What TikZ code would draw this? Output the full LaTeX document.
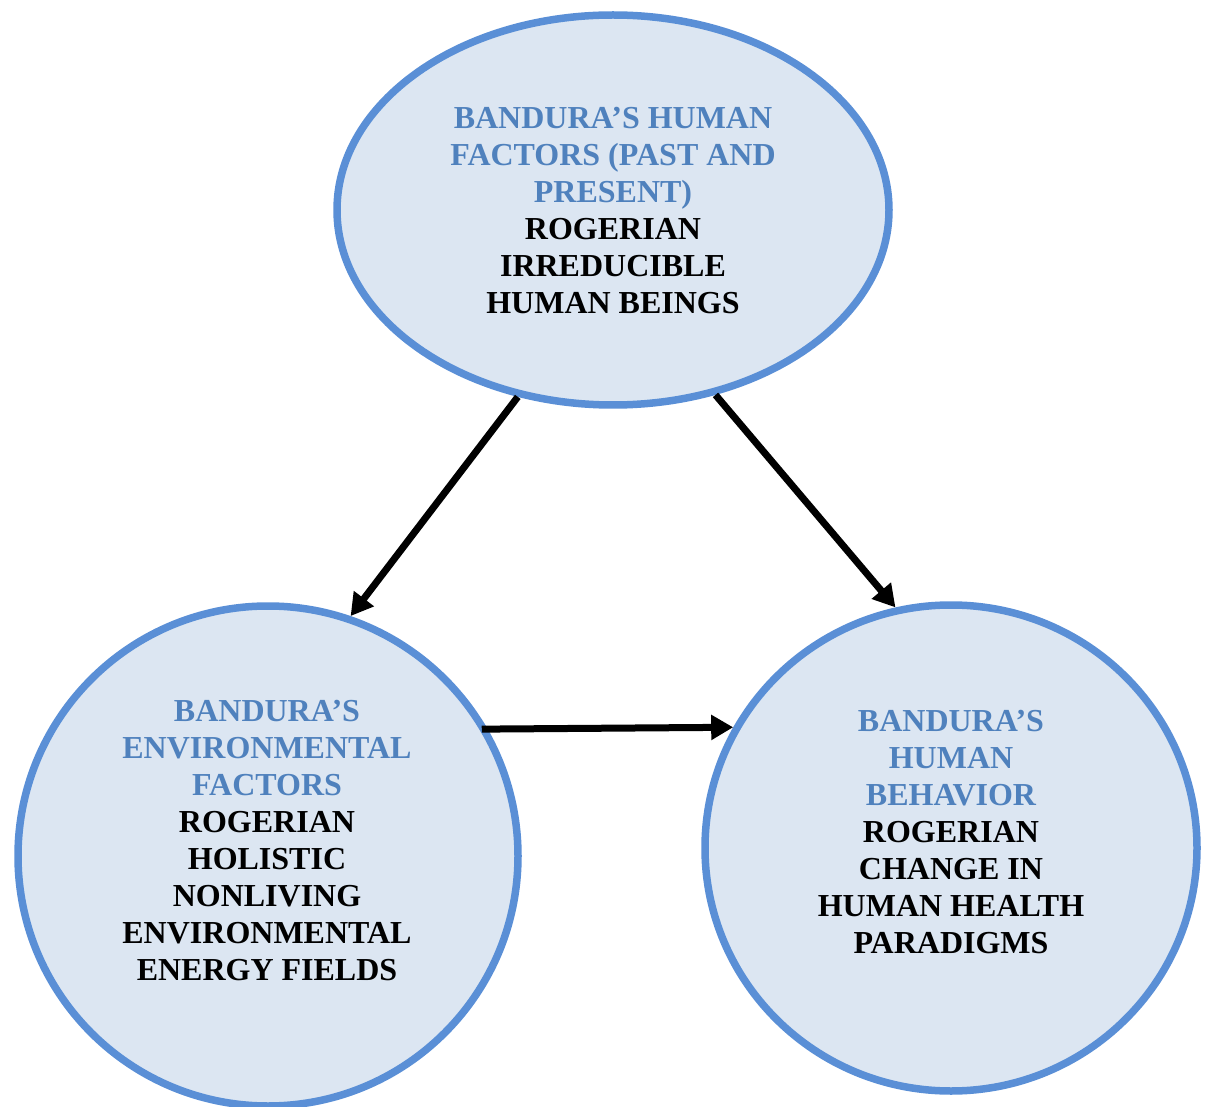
\documentclass[tikz,border=0pt]{standalone}
\usepackage{fontspec}
\setmainfont{Liberation Serif}
\usepackage{tikz}
\usetikzlibrary{arrows.meta,shapes.geometric}

\definecolor{ringblue}{HTML}{5A8FD6}
\definecolor{ringfill}{HTML}{DCE6F2}
\definecolor{headblue}{HTML}{4F81BD}

\tikzset{
  bubble/.style={ellipse, draw=ringblue, fill=ringfill, line width=7.5pt, inner sep=0pt},
  label text/.style={font=\bfseries\fontsize{32}{37}\selectfont, align=center, inner sep=0pt},
  link/.style={line width=7pt, -{Triangle[length=22pt,width=24pt]}}
}

\begin{document}
\begin{tikzpicture}[x=1pt, y=-1pt]
            \useasboundingbox (0,0) rectangle (1211,1107);
            \node[bubble, minimum width=552pt, minimum height=390pt] (human) at (613,210) {};
            \node[bubble, minimum width=500pt, minimum height=500pt] (env) at (268,856) {};
            \node[bubble, minimum width=492pt, minimum height=486pt] (behav) at (951,848) {};
            \node[label text] (humantxt) at (613,211) {\textcolor{headblue}{BANDURA’S HUMAN}\\
                \textcolor{headblue}{FACTORS (PAST AND}\\ \textcolor{headblue}{PRESENT)}\\
                ROGERIAN\\ IRREDUCIBLE\\ HUMAN BEINGS};
            \node[label text] (envtxt) at (267,841) {\textcolor{headblue}{BANDURA’S}\\
                \textcolor{headblue}{ENVIRONMENTAL}\\ \textcolor{headblue}{FACTORS}\\
                ROGERIAN\\ HOLISTIC\\ NONLIVING\\ ENVIRONMENTAL\\ ENERGY FIELDS};
            \node[label text] (behavtxt) at (951,832) {\textcolor{headblue}{BANDURA’S}\\
                \textcolor{headblue}{HUMAN}\\ \textcolor{headblue}{BEHAVIOR}\\
                ROGERIAN\\ CHANGE IN\\ HUMAN HEALTH\\ PARADIGMS};
            \draw[link] (human.243.7) -- (env.71.1);
            \draw[link] (human.299.1) -- (behav.103.3);
            \draw[link] ([xshift=-6pt]env.30.8) -- (behav.151.5);
        \end{tikzpicture}
\end{document}
